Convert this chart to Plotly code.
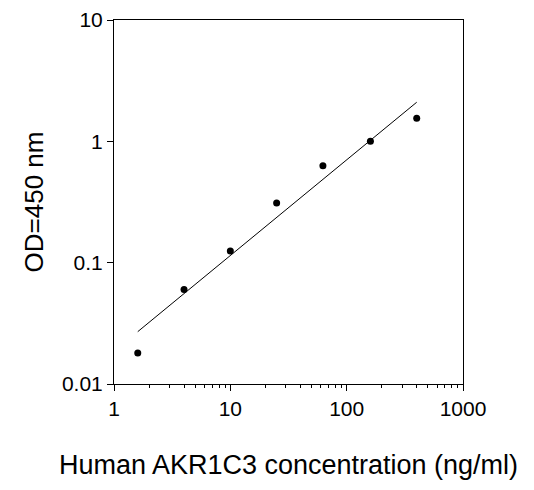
import plotly.graph_objects as go

conc = [1.6, 4, 10, 25, 62.5, 160, 400]
od = [0.018, 0.06, 0.125, 0.31, 0.63, 1.0, 1.55]
fit_x = [1.6, 400]
fit_y = [0.027, 2.1]

fig = go.Figure()
fig.add_trace(go.Scatter(x=fit_x, y=fit_y, mode="lines", line=dict(color="black", width=1)))
fig.add_trace(go.Scatter(x=conc, y=od, mode="markers", marker=dict(color="black", size=7)))
font = dict(family="Liberation Sans, Arial", size=21, color="black")
fig.update_layout(
    width=534, height=490, showlegend=False,
    paper_bgcolor="white", plot_bgcolor="white",
    margin=dict(l=106, r=79, t=12, b=114, autoexpand=False),
    font=font,
    xaxis=dict(type="log", range=[0, 3], tickvals=[1, 10, 100, 1000], ticktext=["1", "10", "100", "1000"],
               ticks="outside", ticklen=6, tickcolor="black", showline=True, linecolor="black", mirror=True,
               showgrid=False, zeroline=False, automargin=False,
               minor=dict(ticks="outside", ticklen=3, tickcolor="black", showgrid=False, dtick="D1"),
               title=dict(text="Human AKR1C3 concentration (ng/ml)", font=dict(size=27), standoff=35)),
    yaxis=dict(type="log", range=[-2, 1], tickvals=[0.01, 0.1, 1, 10], ticktext=["0.01", "0.1", "1", "10"],
               ticks="outside", ticklen=6, tickcolor="black", showline=True, linecolor="black", mirror=True,
               showgrid=False, zeroline=False, automargin=False,
               title=dict(text="OD=450 nm", font=dict(size=26), standoff=10)),
)
fig.write_html("out.html")
